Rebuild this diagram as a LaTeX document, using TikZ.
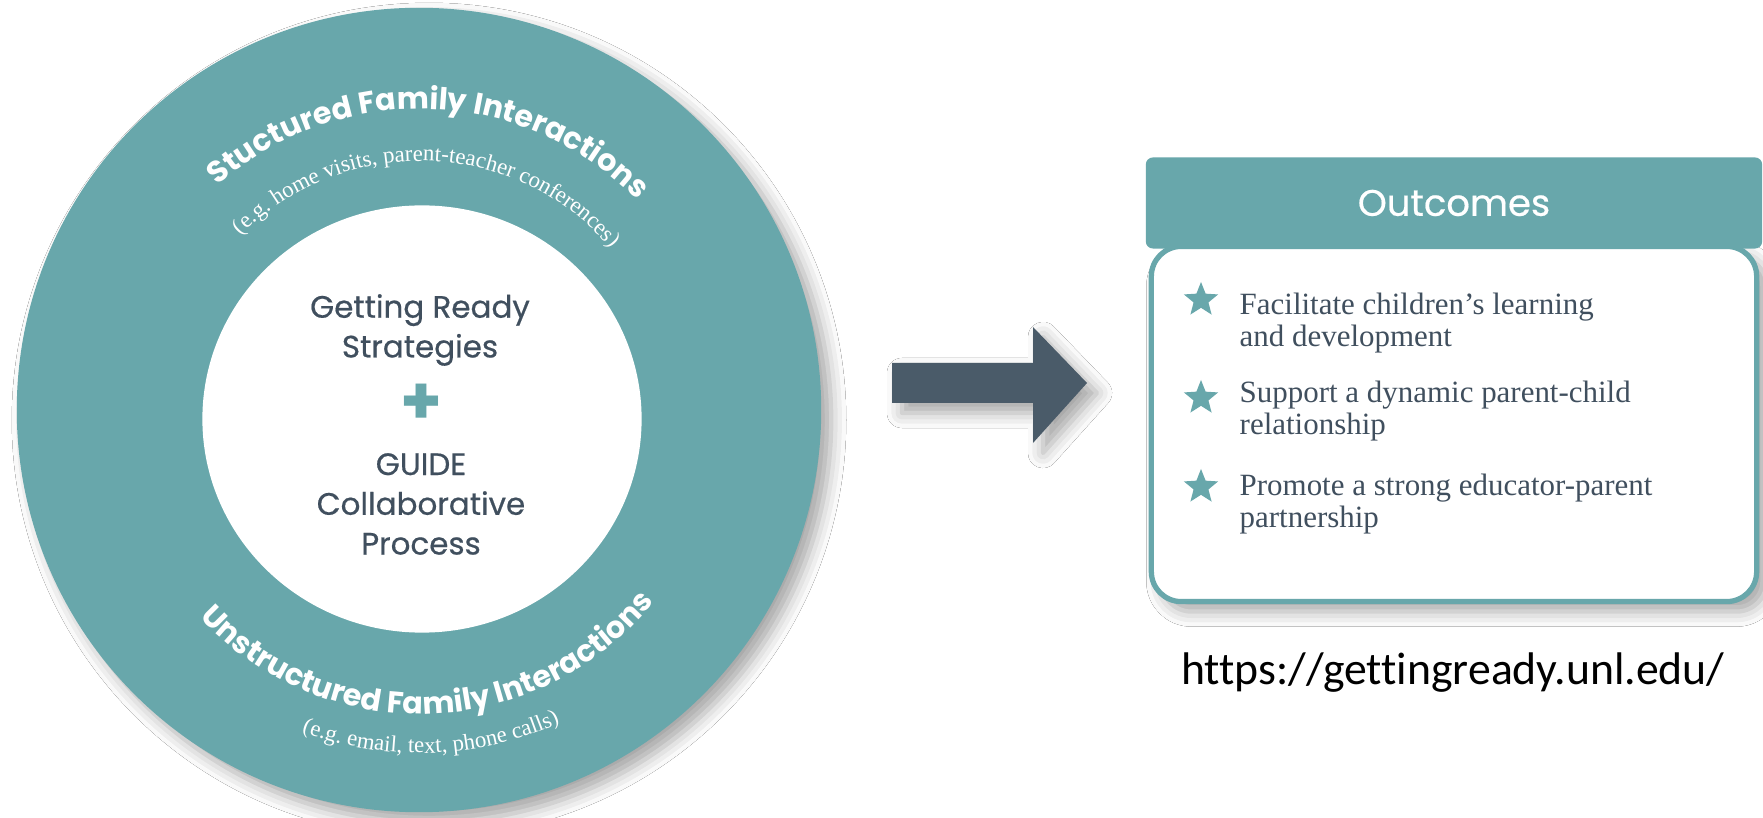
\documentclass[tikz,border=0pt]{standalone}
\usepackage{fontspec}
\setmainfont{Liberation Serif}
\setsansfont{Poppins}
\newfontfamily\corefont{Poppins}[FakeBold=0.5]
\newfontfamily\urlfont{Carlito}[Ligatures=NoCommon]
\usetikzlibrary{shapes.geometric,decorations.text,shadows.blur}

\definecolor{ringteal}{RGB}{104,167,171}
\definecolor{slate}{RGB}{64,79,94}
\definecolor{arrowslate}{RGB}{74,91,105}

\newcommand{\arcbold}{\color{white}\sffamily\bfseries\fontsize{8.6}{10}\selectfont}
\newcommand{\arcsmall}{\color{white}\rmfamily\fontsize{6.5}{7.5}\selectfont}

\begin{document}
\begin{tikzpicture}
[x=0.01cm, y=0.01cm,
 softshadow/.style={blur shadow={shadow xshift=0.1cm, shadow yshift=-0.1cm, shadow blur radius=0.15cm, shadow opacity=35}},
 ring/.style={circle, fill=ringteal, minimum size=8.04cm, inner sep=0pt, softshadow},
 hole/.style={ellipse, fill=white, minimum width=4.39cm, minimum height=4.27cm, inner sep=0pt},
 core/.style={align=center, text=slate, font=\corefont\fontsize{8.8}{11.3}\selectfont},
 starmark/.style={star, star points=5, star point ratio=2.3, fill=ringteal, minimum size=0.36cm, inner sep=0pt},
 item/.style={align=left, inner sep=0pt, text=slate, font=\rmfamily\fontsize{8.8}{9.1}\selectfont}]

\useasboundingbox [fill=white] (0, 0) rectangle (1763, 818);

\node (outer) at (419, 408) [ring] {};
\node (inner) at (422, 399) [hole] {};
\coordinate (hub) at (420, 404);
\path [decorate, decoration={text along path, text align=center, text={|\arcbold|Stuctured Family Interactions}}]
  ([shift={(148:305)}]hub) arc [start angle=148, end angle=28, radius=305];
\path [decorate, decoration={text along path, text align=center, text={|\arcsmall|(e.g. home visits, parent-teacher conferences)}}]
  ([shift={(148:253)}]hub) arc [start angle=148, end angle=28, radius=253];
\path [decorate, decoration={text along path, text align=center, text={|\arcbold|Unstructured Family Interactions}}]
  ([shift={(207:300)}]hub) arc [start angle=207, end angle=337, radius=300];
\path [decorate, decoration={text along path, text align=center, text={|\arcsmall|(e.g. email, text, phone calls)}}]
  ([shift={(217:339)}]hub) arc [start angle=217, end angle=327, radius=339];

\node (strat) at (420, 488) [core] {Getting Ready\\Strategies};
\node (plus) at (421, 414) [text=ringteal, font=\sffamily\bfseries\fontsize{19}{19}\selectfont] {+};
\node (guide) at (421, 314) [core] {GUIDE\\Collaborative\\Process};

\fill [arrowslate, softshadow] (892, 455) -- (1033, 455) -- (1033, 491) -- (1087, 435)
  -- (1033, 375) -- (1033, 415) -- (892, 415) -- cycle;

\node (card) at (1454, 394) [draw=ringteal, line width=1.5pt, fill=white, rounded corners=0.3cm,
  minimum width=6.05cm, minimum height=3.55cm, softshadow] {};
\node (head) at (1454, 615) [fill=ringteal, rounded corners=2pt, minimum width=6.16cm, minimum height=0.91cm,
  text=white, font=\corefont\fontsize{10.5}{12}\selectfont] {Outcomes};

\node (s1) at (1201, 518) [starmark] {};
\node (s2) at (1201, 420) [starmark] {};
\node (s3) at (1201, 331) [starmark] {};
\node (t1) at (1239, 471) [item, anchor=base west] {Facilitate children’s learning\\and development};
\node (t2) at (1239, 383) [item, anchor=base west] {Support a dynamic parent-child\\relationship};
\node (t3) at (1239, 290) [item, anchor=base west] {Promote a strong educator-parent\\partnership};

\node (url) at (1453, 133) [anchor=base, font=\urlfont\fontsize{13}{15}\selectfont] {https://gettingready.unl.edu/};
\end{tikzpicture}
\end{document}
